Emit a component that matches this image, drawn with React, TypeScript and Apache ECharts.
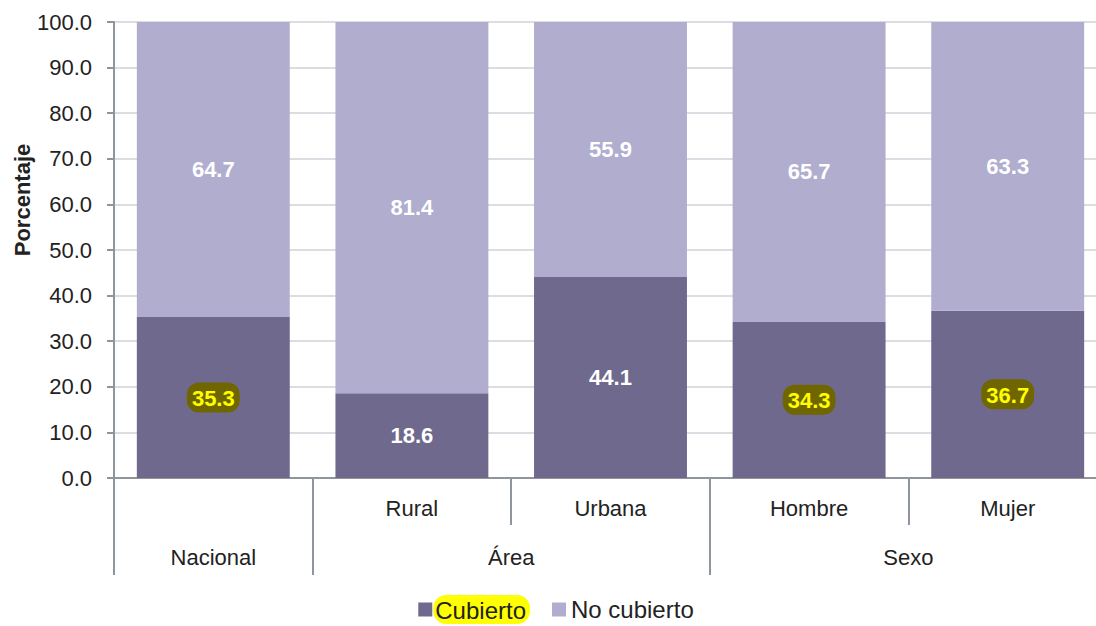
import React, { useEffect, useRef } from "react";
import * as echarts from "echarts";

const categories = ["", "Rural", "Urbana", "Hombre", "Mujer"];
const groupLabels = ["Nacional", "Área", "Sexo"];
const groupCenters = [0.5, 2, 4];
const groupBounds = [0, 1, 3, 5];
const cubierto = [35.3, 18.6, 44.1, 34.3, 36.7];
const noCubierto = [64.7, 81.4, 55.9, 65.7, 63.3];
const highlightCubierto = [true, false, false, true, true];
const yTicks = [0, 10, 20, 30, 40, 50, 60, 70, 80, 90, 100];

const FONT = "Liberation Sans, Arial, sans-serif";

export default function App() {
  const ref = useRef<HTMLDivElement>(null);
  useEffect(() => {
    if (!ref.current) return;
    const chart = echarts.init(ref.current, null, { renderer: "svg" });
    const axisGray = "#8E959C";
    chart.setOption({
      animation: false,
      textStyle: { fontFamily: FONT },
      grid: { left: 114, top: 22, height: 456, width: 993 },
      legend: {
        top: 595,
        left: "center",
        padding: 0,
        itemWidth: 14,
        itemHeight: 14,
        itemGap: 22,
        icon: "rect",
        data: [
          {
            name: "Cubierto",
            textStyle: { padding: [0, 0, 0, -4] },
          },
          "No cubierto",
        ],
        formatter: (name: string) => (name === "Cubierto" ? "{hl|" + name + "}" : name),
        textStyle: {
          fontSize: 24,
          color: "#222",
          fontFamily: FONT,
          rich: {
            hl: {
              fontSize: 24,
              color: "#222",
              fontFamily: FONT,
              backgroundColor: "#FFFF00",
              borderRadius: 13,
              padding: [3, 4, 2, 2],
            },
          },
        },
      },
      graphic: [
        {
          type: "text",
          x: 22,
          y: 200,
          rotation: Math.PI / 2,
          style: {
            text: "Porcentaje",
            font: "bold 22px " + FONT,
            fill: "#222",
            align: "center",
            verticalAlign: "middle",
          },
        },
      ],
      xAxis: [
        {
          type: "category",
          data: categories,
          position: "bottom",
          axisLine: { show: true, lineStyle: { color: axisGray, width: 2 } },
          axisTick: { show: true, length: 47, lineStyle: { color: axisGray, width: 2 } },
          axisLabel: { fontSize: 22, color: "#222", margin: 19, fontFamily: FONT },
          splitLine: { show: false },
        },
        {
          type: "value",
          min: 0,
          max: 5,
          position: "bottom",
          axisLine: { show: false },
          axisTick: {
            show: true,
            length: 97,
            customValues: groupBounds,
            lineStyle: { color: axisGray, width: 2 },
          },
          axisLabel: {
            show: true,
            customValues: groupCenters,
            fontSize: 22,
            color: "#222",
            margin: 68,
            fontFamily: FONT,
            formatter: (v: number) => {
              const i = groupCenters.indexOf(v);
              return i >= 0 ? groupLabels[i] : "";
            },
          },
          splitLine: { show: false },
        },
      ],
      yAxis: {
        type: "value",
        min: 0,
        max: 100,
        interval: 10,
        axisLine: { show: true, lineStyle: { color: axisGray, width: 2 } },
        axisTick: { show: true, length: 7, lineStyle: { color: axisGray, width: 2 } },
        axisLabel: {
          fontSize: 22,
          color: "#222",
          margin: 22,
          fontFamily: FONT,
          formatter: (v: number) => (yTicks.includes(v) ? v.toFixed(1) : ""),
        },
        splitLine: { show: true, lineStyle: { color: "#DCDCE2", width: 2 } },
      },
      series: [
        {
          name: "Cubierto",
          type: "bar",
          stack: "total",
          barWidth: "77%",
          data: cubierto,
          itemStyle: { color: "#6F698E" },
          label: {
            show: true,
            position: "inside",
            fontSize: 22,
            fontWeight: "bold",
            color: "#FFFFFF",
            fontFamily: FONT,
            formatter: (p: any) =>
              highlightCubierto[p.dataIndex]
                ? "{hl|" + p.value.toFixed(1) + "}"
                : p.value.toFixed(1),
            rich: {
              hl: {
                fontSize: 22,
                fontWeight: "bold",
                color: "#FFFF00",
                backgroundColor: "#706600",
                borderRadius: 12,
                padding: [5, 5, 3, 5],
                fontFamily: FONT,
              },
            },
          },
        },
        {
          name: "No cubierto",
          type: "bar",
          stack: "total",
          barWidth: "77%",
          data: noCubierto,
          itemStyle: { color: "#B0ADCF" },
          label: {
            show: true,
            position: "inside",
            fontSize: 22,
            fontWeight: "bold",
            color: "#FFFFFF",
            fontFamily: FONT,
            formatter: (p: any) => p.value.toFixed(1),
          },
        },
      ],
    });
    return () => chart.dispose();
  }, []);
  return (
    <div
      style={{
        position: "fixed",
        left: 0,
        top: 0,
        width: 1096,
        height: 626,
        overflow: "hidden",
        background: "#fff",
      }}
    >
      <div ref={ref} style={{ width: 1112, height: 626 }} />
    </div>
  );
}
